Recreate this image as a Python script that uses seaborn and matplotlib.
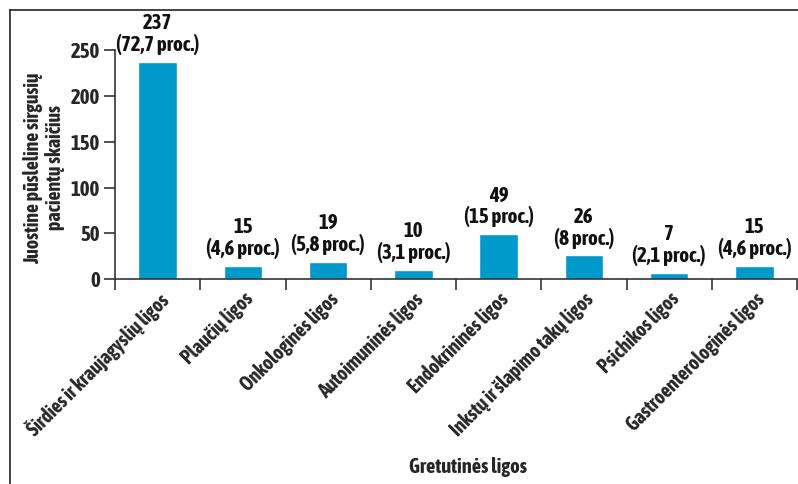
import matplotlib
matplotlib.use("Agg")
import matplotlib.pyplot as plt
from matplotlib import font_manager
from matplotlib.lines import Line2D
import matplotlib.transforms as mtransforms
import seaborn as sns
import pandas as pd

categories = ["Širdies ir kraujagyslių ligos", "Plaučių ligos", "Onkologinės ligos",
              "Autoimuninės ligos", "Endokrininės ligos", "Inkstų ir šlapimo takų ligos",
              "Psichikos ligos", "Gastroenterologinės ligos"]
counts = [237, 15, 19, 10, 49, 26, 7, 15]
percents = ["72,7", "4,6", "5,8", "3,1", "15", "8", "2,1", "4,6"]
y_ticks = [0, 50, 100, 150, 200, 250]

sns.set_theme(style="ticks")


def wnum(w):
    if isinstance(w, str):
        return font_manager.weight_dict.get(w, 400)
    return int(w)


ttf = font_manager.fontManager.ttflist
narrow_bold = sorted({f.name for f in ttf
                      if ("Narrow" in f.name or "Condensed" in f.name
                          or f.stretch in ("condensed", "semi-condensed", "extra-condensed"))
                      and wnum(f.weight) >= 600 and f.style == "normal"})
names = {f.name for f in ttf}
stretch = "normal"
if narrow_bold:
    main_font = narrow_bold[0]
    stretch = "condensed"
elif "Lato" in names:
    main_font = "Lato"
else:
    main_font = "DejaVu Sans"
plt.rcParams["font.family"] = [main_font, "DejaVu Sans"]
plt.rcParams["font.weight"] = "bold"
plt.rcParams["font.stretch"] = stretch

df = pd.DataFrame({"cat": categories, "n": counts})

fig = plt.figure(figsize=(7.98, 4.84), dpi=100)
ax = fig.add_axes([115/798, 1-279.3/484, (797-115)/798, (279.3-50)/484])
sns.barplot(data=df, x="cat", y="n", color="#0099cc", saturation=1, width=0.45, ax=ax)

ax.set_ylim(0, 250)
ax.set_xlim(-0.5, len(categories)-0.5)
ax.set_yticks(y_ticks)
ax.set_yticklabels([str(t) for t in y_ticks], fontsize=15, fontweight="bold")
ax.set_xticks(range(len(categories)))
ax.set_xticklabels(categories, rotation=45, ha="right", rotation_mode="anchor",
                   fontsize=14.2, fontweight="bold")
shift = mtransforms.ScaledTranslation(-10/100, 0, fig.dpi_scale_trans)
for lab in ax.get_xticklabels():
    lab.set_transform(lab.get_transform() + shift)
ax.tick_params(axis="x", length=0, pad=7)
ax.set_xticks([i - 0.5 for i in range(len(categories) + 1)], minor=True)
ax.tick_params(axis="x", which="minor", length=8, width=1.2, color="#333333")
ax.tick_params(axis="y", length=8, width=1.2, color="#333333", pad=3)
for s in ["top", "right"]:
    ax.spines[s].set_visible(False)
for s in ["left", "bottom"]:
    ax.spines[s].set_linewidth(1.2)
    ax.spines[s].set_color("#333333")

for i, (c, p) in enumerate(zip(counts, percents)):
    ax.annotate(f"{c}\n({p} proc.)", xy=(i, c), xytext=(0, 5), textcoords="offset points",
                ha="center", va="bottom", fontsize=15, fontweight="bold",
                linespacing=1.05, color="#111111", annotation_clip=False)

ax.set_xlabel("")
ax.set_ylabel("")
fig.text(44/798, 1-168/484, "Juostine pūsleline sirgusių\npacientų skaičius",
         rotation=90, ha="center", va="center", fontsize=14.3, fontweight="bold",
         linespacing=1.1, multialignment="center")

fig.text(468/798, 1-467/484, "Gretutinės ligos", ha="center", va="center",
         fontsize=14.8, fontweight="bold")

fig.add_artist(Line2D([10/798, 10/798], [0, 1-9.5/484], transform=fig.transFigure,
                      color="#222222", lw=1.2))
fig.add_artist(Line2D([10/798, 1], [1-9.5/484, 1-9.5/484], transform=fig.transFigure,
                      color="#222222", lw=1.2))

fig.savefig("out.png", dpi=100)
